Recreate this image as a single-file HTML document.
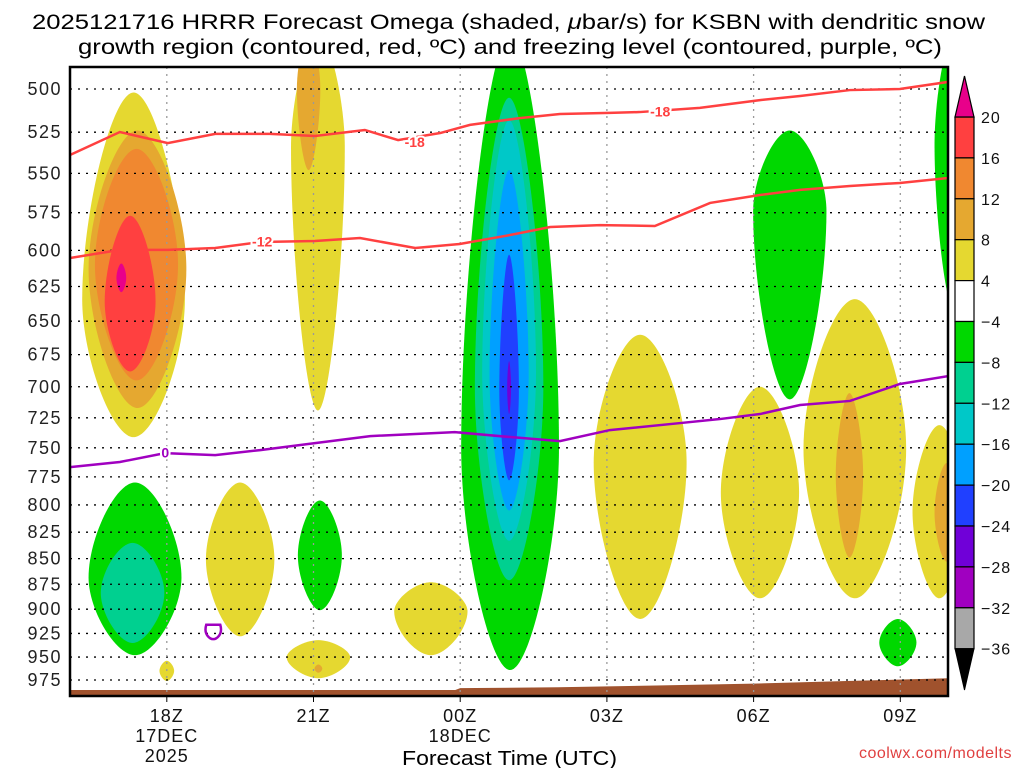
<!DOCTYPE html>
<html><head><meta charset="utf-8"><style>
html,body{margin:0;padding:0;background:#fff;}
svg{display:block;font-family:"Liberation Sans",sans-serif;}
</style></head><body>
<svg id="c" width="1024" height="768" viewBox="0 0 1024 768" xmlns="http://www.w3.org/2000/svg">
<text x="32" y="29" font-size="21" textLength="953" lengthAdjust="spacingAndGlyphs">2025121716 HRRR Forecast Omega (shaded, <tspan font-style="italic">μ</tspan>bar/s) for KSBN with dendritic snow</text>
<text x="78" y="54" font-size="21" textLength="864" lengthAdjust="spacingAndGlyphs">growth region (contoured, red, ºC) and freezing level (contoured, purple, ºC)</text>
<text x="402" y="765" font-size="20" textLength="215" lengthAdjust="spacingAndGlyphs">Forecast Time (UTC)</text>
<text x="1012" y="758" font-size="16" text-anchor="end" fill="#e04040" letter-spacing="0.5">coolwx.com/modelts</text>
<defs><clipPath id="pc"><rect x="70" y="67" width="878" height="629"/></clipPath></defs>
<g id="fills" clip-path="url(#pc)"></g>
<g id="grid"></g>
<g id="lines" clip-path="url(#pc)"></g>
<g id="axes"></g>
<g id="cbar"></g>
</svg>
<script>
// ---- data ----
const pressureTicks=[500,525,550,575,600,625,650,675,700,725,750,775,800,825,850,875,900,925,950,975];
const timeTickHours=[2,5,8,11,14,17];
const timeTickLabels=[["18Z","17DEC","2025"],["21Z"],["00Z","18DEC"],["03Z"],["06Z"],["09Z"]];
const cbarLevels=["20","16","12","8","4","-4","-8","-12","-16","-20","-24","-28","-32","-36"];
const cbarColors=["#ff4040","#f08830","#e5a830","#e5d830","#ffffff","#00d800","#00d090","#00c8c8","#00a0ff","#2040ff","#7000d8","#a000c0","#a8a8a8"];
// omega blobs: [centerHour, halfWidthHours, pTop, pBottom, widestFraction, colorIndex]
const blobs=[
[1.32,1.05,502,741,0.6,3],[1.4,1.0,524,717,0.5,2],[1.38,0.85,535,695,0.5,1],[1.25,0.52,577,688,0.55,0],[1.07,0.1,609,629,0.5,-1],
[5.09,0.55,470,719,0.3,3],[4.9,0.24,470,548,0.4,2],
[9.02,1.0,470,964,0.65,5],[9.0,0.7,505,871,0.6,6],[9.0,0.55,518,833,0.6,7],[9.0,0.4,548,805,0.6,8],[9.0,0.2,603,778,0.6,9],[9.0,0.04,680,722,0.5,10],
[14.74,0.75,524,710,0.3,5],[18.1,0.4,470,642,0.4,5],
[11.68,0.95,660,910,0.45,3],[14.13,0.8,700,889,0.5,3],[16.07,1.05,634,889,0.5,3],[17.8,0.55,731,889,0.5,3],
[15.96,0.28,705,849,0.5,2],[17.95,0.25,763,853,0.5,2],
[1.35,0.95,780,948,0.55,5],[1.3,0.65,835,935,0.5,6],[2.0,0.15,954,976,0.5,3],
[3.5,0.7,780,928,0.5,3],[5.13,0.45,796,901,0.5,5],[5.1,0.65,932,973,0.45,3],[5.1,0.08,958,967,0.5,2],
[7.4,0.75,873,948,0.4,3],[16.95,0.38,910,960,0.5,5]];
const tMinus18H=[0.02,1.04,2.02,2.99,4.11,5.03,6.05,6.73,7.59,8.2,9.22,10.04,11.06,11.67,12.9,14.13,14.95,15.97,16.99,17.98];
const tMinus18P=[538.7,524.9,531.5,526,526,527.3,523.7,529.7,525.5,520.7,516.7,514.3,513.7,513.2,510.8,506.3,504,500.6,500,496];
const tMinus12H=[0.02,1.04,2.02,2.99,3.91,5.03,5.95,7.08,7.99,9.02,9.84,10.86,11.98,13.11,14.13,14.95,15.97,16.99,17.98];
const tMinus12P=[605.2,599.7,599.7,598.4,594.4,593.7,591.7,598.4,595.7,589.7,584.4,583.1,583.7,568.7,563.6,560.4,557.9,556,552.9];
const tZeroH=[0.02,1.04,1.96,2.99,3.91,5.03,6.16,7.89,9.02,10.04,11.06,12.5,13.31,14.13,14.95,15.97,16.99,17.98];
const tZeroP=[766.5,762.1,754.5,756.2,751.9,746,740.1,736.8,740.9,744.3,735.1,729.3,726,721.9,714.6,711.3,697.8,691.6];
const contourLabels=[["-18",7.07,531,"#ff4040"],["-18",12.09,513,"#ff4040"],["-12",3.95,594,"#ff4040"],["0",1.97,754,"#a000c0"]];
const terrainH=[0,2,4,6,7.9,8,10,12,14,16,18];
const terrainP=[986,986,986,986,986,984,983,981,979,976,973];
const purpleRingH=2.95, purpleRingP=[916,931];
// ---- axes ----
const X0=69,XS=48.9,Y0=89,YS=885;
const X=h=>X0+XS*h;
const Y=p=>Y0+YS*Math.log(p/500);
const NS="http://www.w3.org/2000/svg";
function mk(tag,attrs,parent){const e=document.createElementNS(NS,tag);for(const k in attrs)e.setAttribute(k,attrs[k]);parent.appendChild(e);return e;}
const fills=document.getElementById('fills'),grid=document.getElementById('grid'),lines=document.getElementById('lines'),axes=document.getElementById('axes'),cbar=document.getElementById('cbar');
const blobColors=cbarColors.slice();
blobs.forEach((b,i)=>{
  const [cx,hw,pt,pb,m,ci]=b;
  const xt=X(cx),yt=Y(pt),yb=Y(pb),ym=yt+m*(yb-yt),xr=X(cx+hw),xl=X(cx-hw),k=0.42;
  const d=`M${xt},${yt} C${xt+k*(xr-xt)},${yt} ${xr},${ym-k*(ym-yt)} ${xr},${ym} C${xr},${ym+k*(yb-ym)} ${xt+k*(xr-xt)},${yb} ${xt},${yb} C${xt-k*(xt-xl)},${yb} ${xl},${ym+k*(yb-ym)} ${xl},${ym} C${xl},${ym-k*(ym-yt)} ${xt-k*(xt-xl)},${yt} ${xt},${yt} Z`;
  const el=mk('path',{d:d,fill:ci<0?'#e8008a':blobColors[ci]},fills);
  
  
});
// terrain
{let d=`M${X(terrainH[0])},700`;terrainH.forEach((h,i)=>{d+=` L${X(h)},${Y(terrainP[i])}`});d+=` L${X(18)},700 Z`;
const el=mk('path',{d:d,fill:'#a0522d'},fills);

}
// grid
pressureTicks.forEach(p=>{
  const el=mk('line',{x1:70,x2:948,y1:Y(p),y2:Y(p),stroke:'#000','stroke-dasharray':'2 6','stroke-width':1.3},grid);
  
  
  const t=mk('text',{x:62,y:Y(p)+6,'font-size':18,'text-anchor':'end',fill:'#222','letter-spacing':1.5},axes);t.textContent=p;
  
  
});
timeTickHours.forEach((h,i)=>{
  const el=mk('line',{x1:X(h),x2:X(h),y1:67,y2:696,stroke:'#999','stroke-dasharray':'2 5','stroke-width':1.3},grid);
  
  
  mk('line',{x1:X(h),x2:X(h),y1:696,y2:702,stroke:'#000'},axes);
  timeTickLabels[i].forEach((s,j)=>{const t=mk('text',{x:X(h),y:722+j*20,'font-size':18,'text-anchor':'middle',fill:'#111','letter-spacing':1},axes);t.textContent=s;
    
    });
});
{const r=mk('rect',{x:70,y:67,width:878,height:629,fill:'none',stroke:'#000','stroke-width':2.5},axes);

}
// lines
function poly(H,P,color,name){const d=H.map((h,i)=>(i?'L':'M')+X(h)+','+Y(P[i])).join(' ');
  const el=mk('path',{d:d,fill:'none',stroke:color,'stroke-width':2.5},lines);
  
  }
poly(tMinus18H,tMinus18P,'#ff4040','contour-minus18');
poly(tMinus12H,tMinus12P,'#ff4040','contour-minus12');
poly(tZeroH,tZeroP,'#a000c0','freezing-level-0');
{const y1=Y(purpleRingP[0]),y2=Y(purpleRingP[1]),x=X(purpleRingH);
const el=mk('path',{d:`M${x-7},${y1} C${x-10},${y1+10} ${x-3},${y2} ${x},${y2} C${x+3},${y2} ${x+10},${y1+10} ${x+7},${y1} Z`,fill:'none',stroke:'#a000c0','stroke-width':2.5},lines);

}
contourLabels.forEach(c=>{const t=mk('text',{x:X(c[1]),y:Y(c[2])+5,'font-size':14,'font-weight':'bold','text-anchor':'middle',fill:c[3],stroke:'#fff','stroke-width':4,'paint-order':'stroke'},lines);t.textContent=c[0];
  
  });
// colorbar
const CB0=117,CBS=40.9,cx0=955,cw=19;
cbarColors.forEach((c,i)=>{const el=mk('rect',{x:cx0,y:CB0+i*CBS,width:cw,height:CBS,fill:c,stroke:'#000','stroke-width':1.2},cbar);
  
  });
{const a=mk('path',{d:`M${cx0},${CB0} L${cx0+cw/2},76 L${cx0+cw},${CB0} Z`,fill:'#e8008a',stroke:'#000','stroke-width':1.2},cbar);


const yb=CB0+cbarColors.length*CBS;
const b=mk('path',{d:`M${cx0},${yb} L${cx0+cw/2},690 L${cx0+cw},${yb} Z`,fill:'#000',stroke:'#000'},cbar);

}
cbarLevels.forEach((s,i)=>{const t=mk('text',{x:981,y:CB0+i*CBS+6,'font-size':16,fill:'#111','letter-spacing':1},cbar);t.textContent=s.replace('-','−');
  
  });
</script>
</body></html>
